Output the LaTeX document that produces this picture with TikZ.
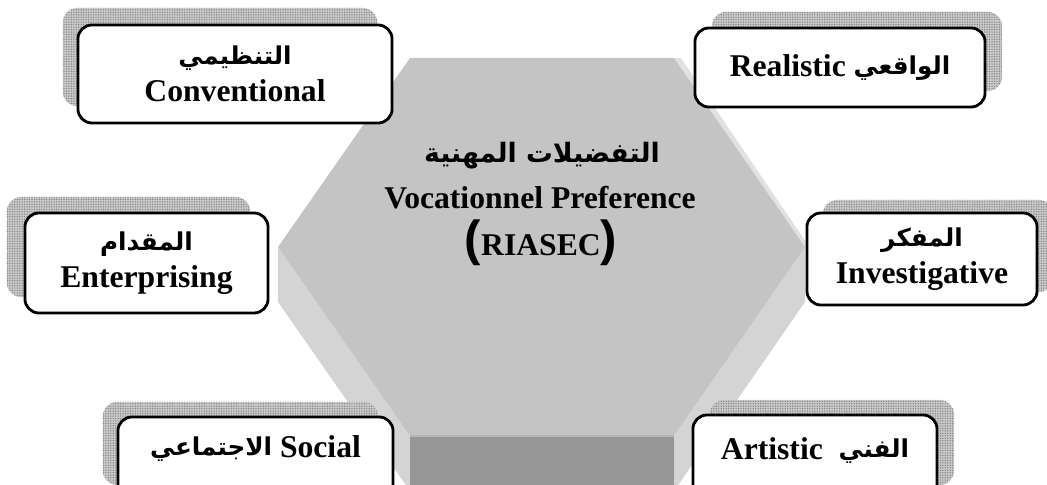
\documentclass[tikz,border=0pt]{standalone}
\usepackage{fontspec}
\setmainfont{Liberation Serif}
\newfontfamily\arabicfont[Script=Arabic]{DejaVu Sans}
\newfontfamily\parenfont{Liberation Sans}
\TeXXeTstate=1
\usetikzlibrary{positioning, shadows, patterns.meta}

\definecolor{facegray}{HTML}{C4C4C4}
\definecolor{sidegray}{HTML}{D4D4D4}
\definecolor{basegray}{HTML}{969696}
\definecolor{rimgray}{HTML}{B4B4B4}
\definecolor{dotgray}{HTML}{C8C8C8}

\tikzset{
  catbox/.style={draw, line width=0.8pt, fill=white, rounded corners=4pt, align=center,
    font=\bfseries\fontsize{9}{10}\selectfont, inner sep=0pt},
  dotshade/.style 2 args={general shadow={shadow xshift=#1, shadow yshift=#2,
    fill=dotgray, postaction={pattern={Dots[distance=0.7pt, radius=0.2pt]}, pattern color=black!50}}},
  ar/.style={font=\arabicfont\bfseries\fontsize{7.6}{10}\selectfont}
}
\newcommand{\ar}[1]{\raisebox{0.6pt}{\arabicfont\bfseries\fontsize{7}{10}\selectfont\beginR #1\endR}}

\begin{document}
\begin{tikzpicture}[x=0.01cm, y=-0.01cm]
    \useasboundingbox (0,0) rectangle (1047,485);
    \clip (0,0) rectangle (1047,485);

    % hexagon corners (top face and lower rim)
    \coordinate (hL)   at (278,247);
    \coordinate (hTL)  at (410,58);
    \coordinate (hTR)  at (674,58);
    \coordinate (hR)   at (805,247);
    \coordinate (hBR)  at (674,436);
    \coordinate (hBL)  at (410,436);
    \coordinate (hLd)  at (278,302);
    \coordinate (hBLd) at (410,491);
    \coordinate (hBRd) at (674,491);
    \coordinate (hRd)  at (805,302);

    % sides of the prism
    \fill[sidegray] (hL) -- (hBL) -- (hBLd) -- (hLd) -- cycle;
    \fill[sidegray] (hR) -- (hBR) -- (hBRd) -- (hRd) -- cycle;
    \fill[basegray] (hBL) -- (hBR) -- (hBRd) -- (hBLd) -- cycle;
    \fill[sidegray!70!white] (hTR) -- (681,58) -- (808,245) -- (hR) -- cycle;
    \fill[facegray] (hL) -- (hTL) -- (hTR) -- (hR) -- (hBR) -- (hBL) -- cycle;
    \draw[rimgray, line width=0.8pt] (hBL) -- (hBR);

    % centre title
    \node[ar] (prefar) at (542,156) {\beginR التفضيلات المهنية\endR};
    \node[font=\bfseries\fontsize{9}{10}\selectfont] (prefen) at (540,198) {Vocationnel Preference};
    \node[font=\bfseries\fontsize{9}{10}\selectfont] (riasec) at (541,243)
        {{\parenfont\fontsize{14}{14}\selectfont(}RIASEC{\parenfont\fontsize{14}{14}\selectfont)}};

    % the six types
    \node[catbox, dotshade={-0.15cm}{0.17cm}, minimum width=3.14cm, minimum height=0.98cm]
        (conv) at (235,74) {\ar{التنظيمي}\\Conventional};
    \node[catbox, dotshade={0.17cm}{0.16cm}, minimum width=2.90cm, minimum height=0.79cm]
        (real) at (840,67.5) {Realistic \ar{الواقعي}};
    \node[catbox, dotshade={-0.18cm}{0.16cm}, minimum width=2.43cm, minimum height=1.00cm]
        (entr) at (146.5,263) {\ar{المقدام}\\Enterprising};
    \node[catbox, dotshade={0.16cm}{0.13cm}, minimum width=2.30cm, minimum height=0.92cm]
        (inve) at (922,259) {\ar{المفكر}\\Investigative};
    \node[catbox, dotshade={-0.15cm}{0.15cm}, minimum width=2.75cm, text height=0.41cm, text depth=0.42cm]
        (soci) at (255.5,458.5) {\ar{الاجتماعي} Social};
    \node[catbox, dotshade={0.17cm}{0.15cm}, minimum width=2.44cm, text height=0.45cm, text depth=0.40cm]
        (arti) at (815,457.5) {Artistic\ \ \ar{الفني}};
\end{tikzpicture}
\end{document}
